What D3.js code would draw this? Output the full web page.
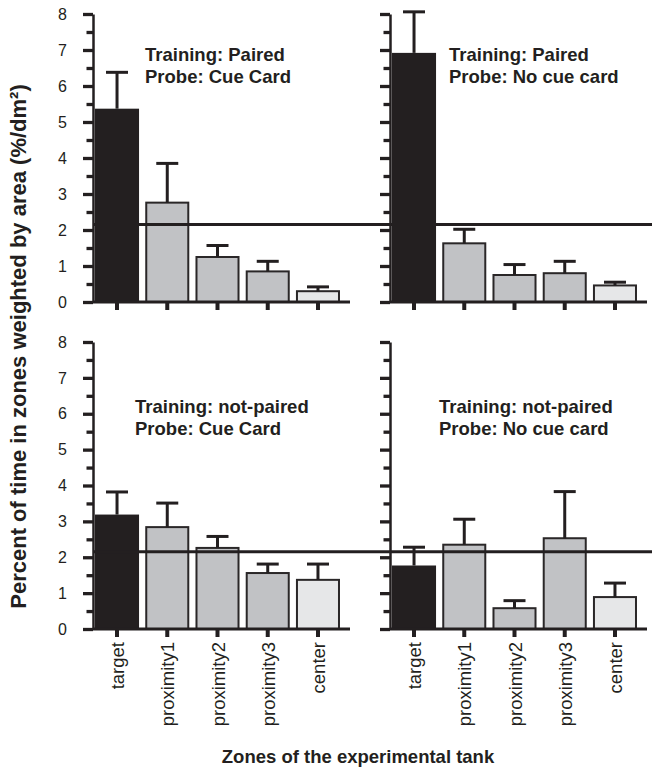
<!DOCTYPE html>
<html>
<head>
<meta charset="utf-8">
<script src="https://cdn.jsdelivr.net/npm/d3@7"></script>
<style>
  html, body { margin: 0; padding: 0; background: #fff; }
  svg { display: block; font-family: "Liberation Sans", Arial, sans-serif; }
</style>
</head>
<body>
<script>
// Zones of the tank (x categories)
const zones = ["target", "proximity1", "proximity2", "proximity3", "center"];

// Mean percent of time per zone, weighted by area (%/dm²), and SEM
const pairedCueMean      = [5.37, 2.76, 1.25, 0.85, 0.30];
const pairedCueSem       = [1.01, 1.09, 0.32, 0.28, 0.12];
const pairedNoCueMean    = [6.92, 1.63, 0.75, 0.80, 0.46];
const pairedNoCueSem     = [1.14, 0.39, 0.29, 0.33, 0.09];
const notPairedCueMean   = [3.19, 2.84, 2.26, 1.56, 1.37];
const notPairedCueSem    = [0.63, 0.67, 0.32, 0.25, 0.44];
const notPairedNoCueMean = [1.77, 2.35, 0.58, 2.53, 0.89];
const notPairedNoCueSem  = [0.51, 0.71, 0.21, 1.30, 0.39];

// Chance level of uniform exploration
const chanceLevel = 2.15;

// Y axis ticks
const yMajorTicks = [0, 1, 2, 3, 4, 5, 6, 7, 8];
const yMinorTicks = [0.5, 1.5, 2.5, 3.5, 4.5, 5.5, 6.5, 7.5];

// Panel captions
const trainingLabels = ["Training: Paired", "Training: Paired", "Training: not-paired", "Training: not-paired"];
const probeLabels    = ["Probe: Cue Card", "Probe: No cue card", "Probe: Cue Card", "Probe: No cue card"];

const yTitle = "Percent of time in zones weighted by area (%/dm\u00B2)";
const xTitle = "Zones of the experimental tank";

// ---------------------------------------------------------------
const W = 652, H = 768;
const ink = "#231f20";
const fillFor = z => z === "target" ? ink : (z === "center" ? "#e6e7e8" : "#c1c2c5");

const svg = d3.select("body").append("svg").attr("width", W).attr("height", H);

const colAxisX = [93, 390];
const rowRange = [[302, 14], [629, 342]];
const bandSpan = 249;
const baseLen = 257;

const panels = [
  { row: 0, col: 0, mean: pairedCueMean,      sem: pairedCueSem,      tx: 145, ty: 61 },
  { row: 0, col: 1, mean: pairedNoCueMean,    sem: pairedNoCueSem,    tx: 449, ty: 61 },
  { row: 1, col: 0, mean: notPairedCueMean,   sem: notPairedCueSem,   tx: 135, ty: 413 },
  { row: 1, col: 1, mean: notPairedNoCueMean, sem: notPairedNoCueSem, tx: 439, ty: 413 }
];

panels.forEach((p, i) => {
  const ax = colAxisX[p.col];
  const y = d3.scaleLinear().domain([0, 8]).range(rowRange[p.row]);
  const x = d3.scaleBand().domain(zones).range([ax, ax + bandSpan])
    .paddingInner(0.1235).paddingOuter(0.04);
  const g = svg.append("g");

  // bars
  g.selectAll("rect.bar").data(zones).join("rect")
    .attr("class", "bar")
    .attr("x", z => x(z) + (z === "target" ? 0 : 1))
    .attr("width", z => x.bandwidth() - (z === "target" ? 0 : 2))
    .attr("y", (z, k) => y(p.mean[k]))
    .attr("height", (z, k) => y(0) - y(p.mean[k]))
    .attr("fill", z => fillFor(z))
    .attr("stroke", z => z === "target" ? "none" : "#2a2728")
    .attr("stroke-width", 2);

  // error bars (upper only)
  const eb = g.selectAll("g.err").data(zones).join("g").attr("class", "err");
  eb.append("line")
    .attr("x1", z => x(z) + x.bandwidth() / 2)
    .attr("x2", z => x(z) + x.bandwidth() / 2)
    .attr("y1", (z, k) => y(p.mean[k]))
    .attr("y2", (z, k) => y(p.mean[k] + p.sem[k]))
    .attr("stroke", ink).attr("stroke-width", 3);
  eb.append("line")
    .attr("x1", z => x(z) + x.bandwidth() / 2 - 11)
    .attr("x2", z => x(z) + x.bandwidth() / 2 + 11)
    .attr("y1", (z, k) => y(p.mean[k] + p.sem[k]))
    .attr("y2", (z, k) => y(p.mean[k] + p.sem[k]))
    .attr("stroke", ink).attr("stroke-width", 3);

  // baseline
  g.append("line")
    .attr("x1", ax).attr("x2", ax + baseLen)
    .attr("y1", y(0)).attr("y2", y(0))
    .attr("stroke", ink).attr("stroke-width", 3);

  // x axis ticks and zone labels
  const xAxis = g.append("g")
    .attr("transform", `translate(0,${y(0)})`)
    .call(d3.axisBottom(x).tickSize(8).tickSizeOuter(0)
      .tickFormat(p.row === 1 ? (d => d) : ""));
  xAxis.select(".domain").remove();
  xAxis.selectAll(".tick line").attr("stroke", ink).attr("stroke-width", 4);
  xAxis.selectAll(".tick text")
    .attr("transform", "rotate(-90)")
    .attr("text-anchor", "end")
    .attr("x", -13).attr("y", 7).attr("dy", 0)
    .attr("fill", ink)
    .style("font-size", "18.5px")
    .style("font-family", "'Liberation Sans', Arial, sans-serif");

  // y axis: minor then major ticks
  const minor = g.append("g").attr("transform", `translate(${ax},0)`)
    .call(d3.axisLeft(y).tickValues(yMinorTicks).tickSize(6.5).tickSizeOuter(0).tickFormat(""));
  minor.select(".domain").remove();
  minor.selectAll(".tick line").attr("stroke", ink).attr("stroke-width", 3.3);

  const major = g.append("g").attr("transform", `translate(${ax},0)`)
    .call(d3.axisLeft(y).tickValues(yMajorTicks).tickSize(10).tickSizeOuter(0).tickPadding(16)
      .tickFormat(p.col === 0 ? d3.format("d") : ""));
  major.select(".domain").attr("stroke", ink).attr("stroke-width", 2.5);
  major.selectAll(".tick line").attr("stroke", ink).attr("stroke-width", 3.3);
  major.selectAll(".tick text").attr("fill", ink)
    .style("font-size", "16px")
    .style("font-family", "'Liberation Sans', Arial, sans-serif");

  // panel caption
  const cap = g.append("text")
    .attr("x", p.tx).attr("y", p.ty)
    .attr("fill", ink).style("font-size", "18.5px").style("font-weight", "bold");
  cap.append("tspan").attr("x", p.tx).text(trainingLabels[i]);
  cap.append("tspan").attr("x", p.tx).attr("dy", 22).text(probeLabels[i]);
});

// chance level line across both columns of each row
rowRange.forEach(r => {
  const y = d3.scaleLinear().domain([0, 8]).range(r);
  svg.append("line")
    .attr("x1", colAxisX[0]).attr("x2", W)
    .attr("y1", y(chanceLevel)).attr("y2", y(chanceLevel))
    .attr("stroke", ink).attr("stroke-width", 3);
});

// axis titles
svg.append("text")
  .attr("transform", "translate(26,346.5) rotate(-90)")
  .attr("text-anchor", "middle")
  .attr("fill", ink)
  .style("font-size", "22px").style("font-weight", "bold")
  .text(yTitle);

svg.append("text")
  .attr("x", 358).attr("y", 763)
  .attr("text-anchor", "middle")
  .attr("fill", ink)
  .style("font-size", "18.5px").style("font-weight", "bold")
  .text(xTitle);
</script>
</body>
</html>
